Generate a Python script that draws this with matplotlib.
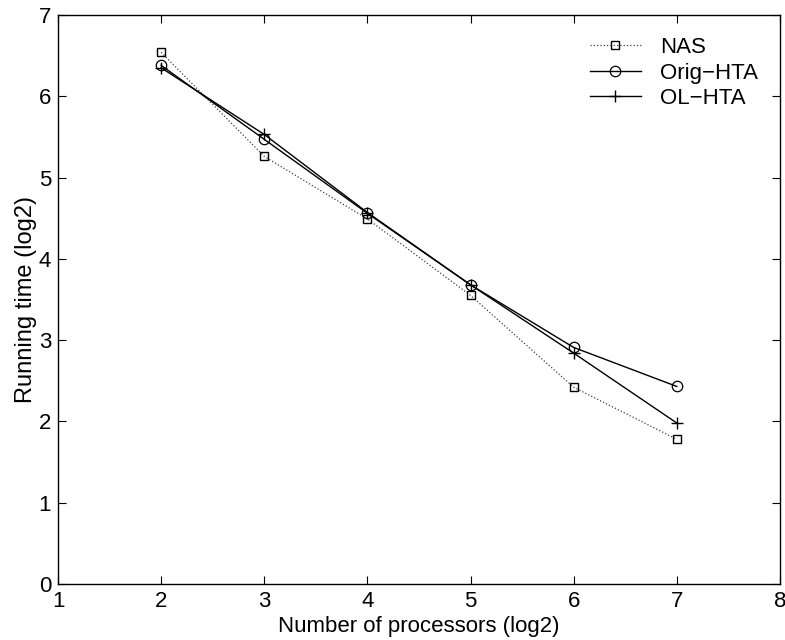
import matplotlib
matplotlib.use("Agg")
import matplotlib.pyplot as plt

plt.rcParams['font.family'] = ['Liberation Sans', 'DejaVu Sans']

procs = [2, 3, 4, 5, 6, 7]
nas = [6.54, 5.26, 4.49, 3.55, 2.42, 1.78]
orig_hta = [6.38, 5.47, 4.56, 3.68, 2.91, 2.43]
ol_hta = [6.35, 5.53, 4.57, 3.68, 2.84, 1.98]

fig = plt.figure(figsize=(7.85, 6.4), dpi=100)
ax = fig.add_axes([0.0739, 0.0875, 0.9197, 0.8891])

ax.plot(procs, nas, color='0.25', ls=':', lw=0.9, marker='s', ms=6,
        mfc='none', mec='k', mew=1.0, label='NAS')
ax.plot(procs, orig_hta, color='k', ls='-', lw=1.0, marker='o', ms=7.5,
        mfc='none', mec='k', mew=0.9, label='Orig\u2212HTA')
ax.plot(procs, ol_hta, color='k', ls='-', lw=1.0, marker='+', ms=8,
        mec='k', mew=1.0, label='OL\u2212HTA')

ax.set_xlim(1, 8)
ax.set_ylim(0, 7)
ax.set_xticks(range(1, 9))
ax.set_yticks(range(0, 8))
ax.tick_params(direction='in', top=True, right=True, length=6, width=0.8,
               labelsize=16, pad=5)
for s in ax.spines.values():
    s.set_linewidth(1.0)

ax.set_xlabel('Number of processors (log2)', fontsize=16, labelpad=3)
ax.set_ylabel('Running time (log2)', fontsize=17, labelpad=1)

ax.legend(loc='upper right', frameon=False, fontsize=16, handlelength=2.3,
          handletextpad=0.85, labelspacing=0.2, borderaxespad=0.6)

fig.savefig('out.png', dpi=100)
